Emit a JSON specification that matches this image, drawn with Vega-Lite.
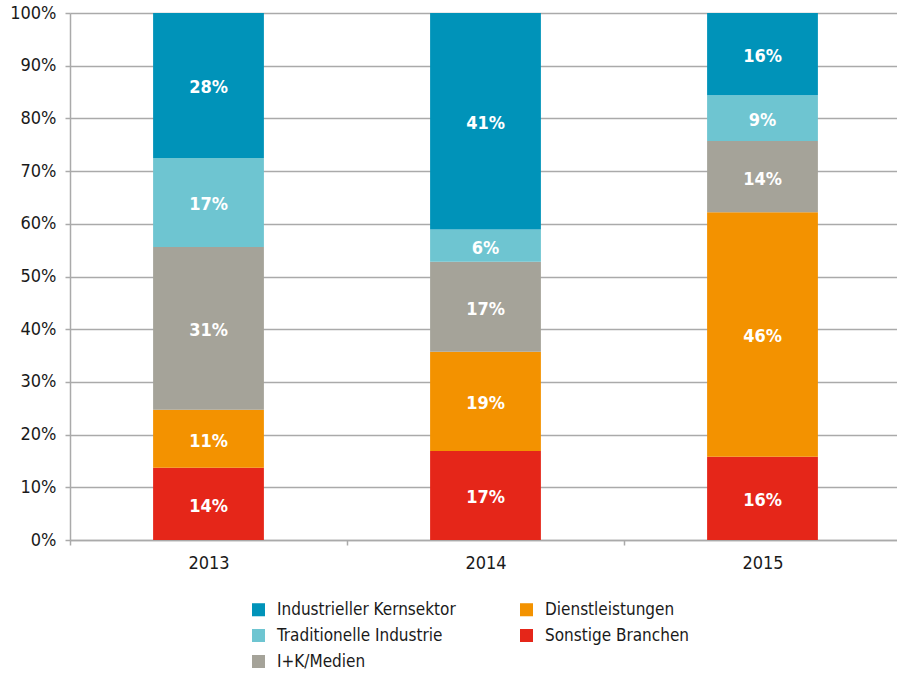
{
  "$schema": "https://vega.github.io/schema/vega-lite/v6.json",
  "width": 831,
  "height": 527,
  "autosize": {"type": "none"},
  "padding": {"left": 70, "top": 13, "right": 0, "bottom": 134},
  "config": {
    "view": {"stroke": null},
    "font": "'DejaVu Sans Condensed', 'Roboto', sans-serif"
  },
  "data": {
    "values": [
      {"year": "2013", "sector": "Sonstige Branchen", "pos": 1, "value": 13.7, "label": "14%"},
      {"year": "2013", "sector": "Dienstleistungen", "pos": 2, "value": 11.0, "label": "11%"},
      {"year": "2013", "sector": "I+K/Medien", "pos": 3, "value": 30.9, "label": "31%"},
      {"year": "2013", "sector": "Traditionelle Industrie", "pos": 4, "value": 16.9, "label": "17%"},
      {"year": "2013", "sector": "Industrieller Kernsektor", "pos": 5, "value": 27.5, "label": "28%"},
      {"year": "2014", "sector": "Sonstige Branchen", "pos": 1, "value": 16.9, "label": "17%"},
      {"year": "2014", "sector": "Dienstleistungen", "pos": 2, "value": 18.8, "label": "19%"},
      {"year": "2014", "sector": "I+K/Medien", "pos": 3, "value": 17.1, "label": "17%"},
      {"year": "2014", "sector": "Traditionelle Industrie", "pos": 4, "value": 6.1, "label": "6%"},
      {"year": "2014", "sector": "Industrieller Kernsektor", "pos": 5, "value": 41.1, "label": "41%"},
      {"year": "2015", "sector": "Sonstige Branchen", "pos": 1, "value": 15.8, "label": "16%"},
      {"year": "2015", "sector": "Dienstleistungen", "pos": 2, "value": 46.4, "label": "46%"},
      {"year": "2015", "sector": "I+K/Medien", "pos": 3, "value": 13.5, "label": "14%"},
      {"year": "2015", "sector": "Traditionelle Industrie", "pos": 4, "value": 8.7, "label": "9%"},
      {"year": "2015", "sector": "Industrieller Kernsektor", "pos": 5, "value": 15.6, "label": "16%"}
    ]
  },
  "transform": [
    {"stack": "value", "groupby": ["year"], "sort": [{"field": "pos", "order": "ascending"}], "as": ["y0", "y1"], "offset": "normalize"},
    {"calculate": "(datum.y0 + datum.y1) / 2", "as": "ymid"}
  ],
  "encoding": {
    "x": {
      "field": "year",
      "type": "nominal",
      "scale": {"paddingInner": 0.6, "paddingOuter": 0.3},
      "axis": {
        "title": null,
        "labelAngle": 0,
        "labelFontSize": 18,
        "labelColor": "#1a1a1a",
        "labelPadding": 9,
        "domainColor": "#aaaaaa",
        "domainWidth": 1.5,
        "tickColor": "#aaaaaa",
        "tickWidth": 1.5,
        "tickSize": 5,
        "tickOffset": -138.5,
        "labelOffset": 138.5,
        "grid": false
      }
    }
  },
  "layer": [
    {
      "mark": {"type": "bar"},
      "encoding": {
        "y": {
          "field": "y0",
          "type": "quantitative",
          "scale": {"domain": [0, 1]},
          "axis": {
            "title": null,
            "format": ".0%",
            "values": [0, 0.1, 0.2, 0.3, 0.4, 0.5, 0.6, 0.7, 0.8, 0.9, 1],
            "labelFontSize": 18,
            "labelColor": "#1a1a1a",
            "labelPadding": 9,
            "grid": true,
            "gridColor": "#aaaaaa",
            "gridWidth": 1.5,
            "domainColor": "#aaaaaa",
            "domainWidth": 1.5,
            "tickColor": "#aaaaaa",
            "tickWidth": 1.5,
            "tickSize": 5
          }
        },
        "y2": {"field": "y1"},
        "color": {
          "field": "sector",
          "type": "nominal",
          "scale": {
            "domain": ["Industrieller Kernsektor", "Traditionelle Industrie", "I+K/Medien", "Dienstleistungen", "Sonstige Branchen"],
            "range": ["#0093b9", "#6ec5d1", "#a5a399", "#f39200", "#e52619"]
          },
          "legend": {
            "title": null,
            "orient": "none",
            "legendX": 180,
            "legendY": 588,
            "columns": 2,
            "columnPadding": 62,
            "rowPadding": 8,
            "symbolType": "square",
            "symbolSize": 170,
            "symbolStrokeWidth": 0,
            "labelFontSize": 17,
            "labelColor": "#1a1a1a",
            "labelOffset": 10,
            "labelLimit": 300
          }
        }
      }
    },
    {
      "mark": {"type": "text", "color": "white", "fontWeight": "bold", "fontSize": 18, "baseline": "middle", "dy": 3},
      "encoding": {
        "y": {"field": "ymid", "type": "quantitative"},
        "text": {"field": "label"}
      }
    }
  ]
}
